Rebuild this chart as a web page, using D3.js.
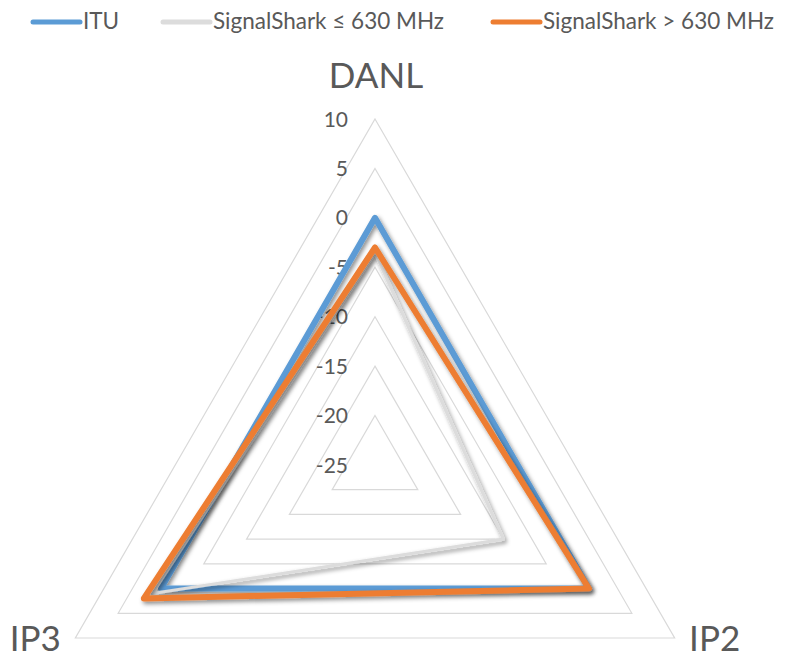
<!DOCTYPE html>
<html>
<head>
<meta charset="utf-8">
<script src="https://cdn.jsdelivr.net/npm/d3@7/dist/d3.min.js"></script>
<style>
  html, body { margin: 0; padding: 0; background: #fff; }
  svg { display: block; }
  text { font-family: Lato, "Open Sans", sans-serif; fill: #595959; }
</style>
</head>
<body>
<svg id="chart" width="791" height="658"></svg>
<script>
// ---- data ----
const categories = ["DANL", "IP2", "IP3"];
const seriesNames = ["ITU", "SignalShark \u2264 630 MHz", "SignalShark > 630 MHz"];
const ituValues = [0, 0, 0];
const ssLowValues = [-3.5, -10, 1];
const ssHighValues = [-3, 0, 2];
const tickValues = [-25, -20, -15, -10, -5, 0, 5, 10];
const gridLevels = [-20, -15, -10, -5, 0, 5, 10];

const seriesColors = ["#5B9BD5", "#DCDCDC", "#ED7D31"];
const seriesWidths = [6, 3, 6];
const allSeries = [ituValues, ssLowValues, ssHighValues];

const svg = d3.select("#chart");
const cx = 375, cy = 465, R = 346;

const defs = svg.append("defs");
const f = defs.append("filter").attr("id", "shadow")
  .attr("x", "-20%").attr("y", "-20%").attr("width", "140%").attr("height", "140%");
f.append("feDropShadow").attr("dx", 2).attr("dy", 2.5).attr("stdDeviation", 2)
  .attr("flood-color", "#000").attr("flood-opacity", 0.45);

const r = d3.scaleLinear().domain([-25, 10]).range([0, R]);
const angle = d3.scaleOrdinal().domain(d3.range(categories.length))
  .range(d3.range(categories.length).map(i => i * 2 * Math.PI / categories.length));

function pt(i, v) {
  const a = angle(i);
  return [cx + r(v) * Math.sin(a), cy - r(v) * Math.cos(a)];
}

// grid triangles
const g = svg.append("g");
gridLevels.forEach(lv => {
  g.append("path")
    .attr("d", d3.line()(categories.map((c, i) => pt(i, lv))) + "Z")
    .attr("fill", "none").attr("stroke", "#D9D9D9").attr("stroke-width", 1.2);
});

// tick labels
g.selectAll("text.tick").data(tickValues).join("text")
  .attr("class", "tick")
  .attr("x", cx - 27)
  .attr("y", d => cy - r(d))
  .attr("dy", "0.36em")
  .attr("text-anchor", "end")
  .attr("font-size", 21)
  .text(d => d);

// series
const line = d3.line();
allSeries.forEach((vals, s) => {
  svg.append("path")
    .attr("d", line(vals.map((v, i) => pt(i, v))) + "Z")
    .attr("fill", "none")
    .attr("stroke", seriesColors[s])
    .attr("stroke-width", seriesWidths[s])
    .attr("stroke-linejoin", "round")
    .attr("filter", "url(#shadow)");
});

// category labels
const labelOffsets = [[1, -44], [40, 0], [-40, 0]];
categories.forEach((c, i) => {
  const p = pt(i, 10);
  svg.append("text")
    .attr("x", p[0] + labelOffsets[i][0])
    .attr("y", p[1] + labelOffsets[i][1])
    .attr("dy", "0.36em")
    .attr("text-anchor", "middle")
    .attr("font-size", 35)
    .text(c);
});

// legend
const legendX = [33, 163, 493];
const legend = svg.append("g");
seriesNames.forEach((n, s) => {
  legend.append("line")
    .attr("x1", legendX[s]).attr("x2", legendX[s] + 47)
    .attr("y1", 22).attr("y2", 22)
    .attr("stroke", seriesColors[s]).attr("stroke-width", 5)
    .attr("stroke-linecap", "round");
  legend.append("text")
    .attr("x", legendX[s] + 50).attr("y", 29)
    .attr("font-size", 22.5)
    .text(n);
});
</script>
</body>
</html>
